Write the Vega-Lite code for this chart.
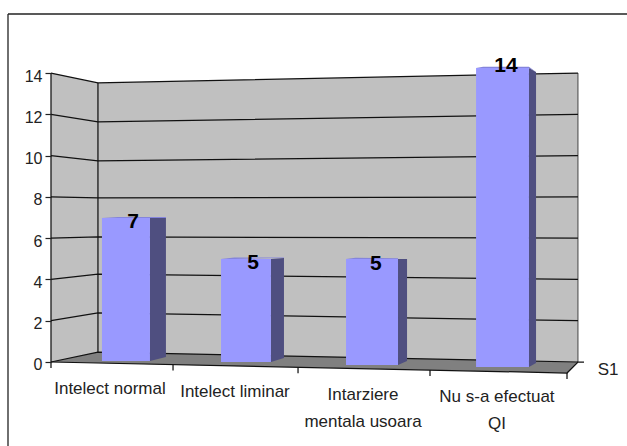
{
"$schema":"https://vega.github.io/schema/vega-lite/v6.json",
"width":619,"height":432,
"autosize":{"type":"none"},
"padding":{"left":8,"top":14,"right":0,"bottom":0},
"background":"white",
"view":{"stroke":null},
"datasets":{
"frame":[{"a":-0.3333,"b":-0.3333,"p":-4.0698,"q":16.8605},{"a":-0.3333,"b":4.4651,"p":16.8605,"q":16.8605}],
"leftWall":[{"x":0,"lo":0,"hi":14},{"x":0.364,"lo":0.48,"hi":13.52}],
"backWall":[{"x":0.364,"lo":0.48,"hi":13.52},{"x":4.085,"lo":0,"hi":14}],
"floor":[{"x":0,"lo":0,"hi":0},{"x":0.364,"lo":-0.05,"hi":0.48},{"x":4,"lo":-0.533,"hi":0.01},{"x":4.085,"lo":0,"hi":0}],
"grid":[
{"level":14,"x":0,"v":14},{"level":14,"x":0.364,"v":13.52},{"level":14,"x":4.085,"v":14},
{"level":12,"x":0,"v":12},{"level":12,"x":0.364,"v":11.63},{"level":12,"x":4.085,"v":12},
{"level":10,"x":0,"v":10},{"level":10,"x":0.364,"v":9.74},{"level":10,"x":4.085,"v":10},
{"level":8,"x":0,"v":8},{"level":8,"x":0.364,"v":7.95},{"level":8,"x":4.085,"v":8},
{"level":6,"x":0,"v":6},{"level":6,"x":0.364,"v":6.06},{"level":6,"x":4.085,"v":6},
{"level":4,"x":0,"v":4},{"level":4,"x":0.364,"v":4.26},{"level":4,"x":4.085,"v":4},
{"level":2,"x":0,"v":2},{"level":2,"x":0.364,"v":2.38},{"level":2,"x":4.085,"v":2},
{"level":0,"x":0,"v":0},{"level":0,"x":0.364,"v":0.48},{"level":0,"x":4.085,"v":0}
],
"edges":[
{"e":"axis","x":0,"v":0},{"e":"axis","x":0,"v":14},
{"e":"corner","x":0.364,"v":0.48},{"e":"corner","x":0.364,"v":13.52},
{"e":"front","x":0,"v":0},{"e":"front","x":4,"v":-0.533},{"e":"front","x":4.085,"v":0},{"e":"front","x":4.132,"v":0},
{"e":"t0","x":0,"v":0},{"e":"t0","x":0,"v":-0.29},
{"e":"t1","x":0.946,"v":-0.126},{"e":"t1","x":0.946,"v":-0.417},
{"e":"t2","x":1.915,"v":-0.257},{"e":"t2","x":1.915,"v":-0.548},
{"e":"t3","x":2.938,"v":-0.388},{"e":"t3","x":2.938,"v":-0.679},
{"e":"t4","x":4,"v":-0.533},{"e":"t4","x":4,"v":-0.824}
],
"rightEdge":[{"x":4.085,"v":0},{"x":4.085,"v":14}],
"bars":[
{"category":"Intelect normal","value":7,"x0":0.395,"x1":0.767,"top":6.98,"base":0.05,"lx":0.636,"lv":6.8},
{"category":"Intelect liminar","value":5,"x0":1.318,"x1":1.705,"top":4.99,"base":0,"lx":1.566,"lv":4.82},
{"category":"Intarziere mentala usoara","value":5,"x0":2.287,"x1":2.69,"top":4.99,"base":-0.145,"lx":2.519,"lv":4.77},
{"category":"Nu s-a efectuat QI","value":14,"x0":3.295,"x1":3.705,"top":14.24,"base":-0.24,"lx":3.527,"lv":14.32}
],
"sides":[
{"bar":1,"x":0.767,"lo":0.05,"hi":6.98},{"bar":1,"x":0.891,"lo":0.24,"hi":6.98},
{"bar":2,"x":1.705,"lo":0,"hi":4.99},{"bar":2,"x":1.806,"lo":0.19,"hi":5.04},
{"bar":3,"x":2.69,"lo":-0.145,"hi":4.99},{"bar":3,"x":2.76,"lo":0.05,"hi":4.99},
{"bar":4,"x":3.705,"lo":-0.24,"hi":14.24},{"bar":4,"x":3.76,"lo":-0.05,"hi":14.05}
],
"tops":[
{"bar":1,"x":0.395,"lo":6.98,"hi":6.98},{"bar":1,"x":0.52,"lo":6.98,"hi":7.03},{"bar":1,"x":0.891,"lo":6.98,"hi":7.03},
{"bar":2,"x":1.318,"lo":4.99,"hi":4.99},{"bar":2,"x":1.42,"lo":4.99,"hi":5.06},{"bar":2,"x":1.806,"lo":5.04,"hi":5.06},
{"bar":3,"x":2.287,"lo":4.99,"hi":4.99},{"bar":3,"x":2.36,"lo":4.99,"hi":5.05},{"bar":3,"x":2.69,"lo":4.99,"hi":5.03},
{"bar":4,"x":3.295,"lo":14.24,"hi":14.24},{"bar":4,"x":3.35,"lo":14.24,"hi":14.3},{"bar":4,"x":3.705,"lo":14.24,"hi":14.3},{"bar":4,"x":3.76,"lo":14.05,"hi":14.05}
],
"labels":[
{"label":"Intelect normal","x":0.457,"v":-0.9},
{"label":"Intelect liminar","x":1.426,"v":-1.09},
{"label":"Intarziere\nmentala usoara","x":2.419,"v":-1.19},
{"label":"Nu s-a efectuat\nQI","x":3.457,"v":-1.33},
{"label":"S1","x":4.318,"v":0.02}
]
},
"encoding":{},
"layer":[
{"data":{"name":"frame"},"mark":{"type":"rule","color":"#222","strokeWidth":1.3},
 "encoding":{"x":{"field":"a","type":"quantitative","scale":{"domain":[-0.3333,4.4651],"nice":false,"zero":false},"axis":null},"x2":{"field":"b"},
 "y":{"field":"p","type":"quantitative","scale":{"domain":[-4.0698,16.8605],"nice":false,"zero":false},
 "axis":{"values":[0,2,4,6,8,10,12,14],"title":null,"grid":false,"domain":false,"offset":-43,"tickSize":6,"tickColor":"#222","tickWidth":1.2,"labelPadding":3,"labelOffset":3,"labelFont":"Liberation Sans","labelFontSize":16,"labelColor":"#222","zindex":1}},"y2":{"field":"q"}}},
{"data":{"name":"leftWall"},"mark":{"type":"area","color":"#C0C0C0","opacity":1},"encoding":{"x":{"field":"x","type":"quantitative"},"y":{"field":"lo","type":"quantitative"},"y2":{"field":"hi"}}},
{"data":{"name":"backWall"},"mark":{"type":"area","color":"#C0C0C0","opacity":1},"encoding":{"x":{"field":"x","type":"quantitative"},"y":{"field":"lo","type":"quantitative"},"y2":{"field":"hi"}}},
{"data":{"name":"floor"},"mark":{"type":"area","color":"#808080","opacity":1},"encoding":{"x":{"field":"x","type":"quantitative"},"y":{"field":"lo","type":"quantitative"},"y2":{"field":"hi"}}},
{"data":{"name":"rightEdge"},"mark":{"type":"line","color":"#444","strokeWidth":1},"encoding":{"x":{"field":"x","type":"quantitative"},"y":{"field":"v","type":"quantitative"}}},
{"data":{"name":"grid"},"mark":{"type":"line","color":"#111","strokeWidth":1.25},"encoding":{"x":{"field":"x","type":"quantitative"},"y":{"field":"v","type":"quantitative"},"detail":{"field":"level"}}},
{"data":{"name":"edges"},"mark":{"type":"line","color":"#111","strokeWidth":1.25},"encoding":{"x":{"field":"x","type":"quantitative"},"y":{"field":"v","type":"quantitative"},"detail":{"field":"e"},"order":{"field":"__none"}}},
{"data":{"name":"tops"},"mark":{"type":"area","color":"#8484DC","opacity":1},"encoding":{"x":{"field":"x","type":"quantitative"},"y":{"field":"lo","type":"quantitative"},"y2":{"field":"hi"},"detail":{"field":"bar"}}},
{"data":{"name":"sides"},"mark":{"type":"area","color":"#4F4F80","opacity":1},"encoding":{"x":{"field":"x","type":"quantitative"},"y":{"field":"lo","type":"quantitative"},"y2":{"field":"hi"},"detail":{"field":"bar"}}},
{"data":{"name":"bars"},"mark":{"type":"rect","color":"#9999FF"},"encoding":{"x":{"field":"x0","type":"quantitative"},"x2":{"field":"x1"},"y":{"field":"base","type":"quantitative"},"y2":{"field":"top"}}},
{"data":{"name":"bars"},"mark":{"type":"text","font":"Liberation Sans","fontWeight":"bold","fontSize":21,"color":"#000","baseline":"middle"},"encoding":{"x":{"field":"lx","type":"quantitative"},"y":{"field":"lv","type":"quantitative"},"text":{"field":"value","type":"quantitative"}}},
{"data":{"name":"labels"},"mark":{"type":"text","font":"Liberation Sans","fontSize":17,"color":"#222","baseline":"top","lineBreak":"\n","lineHeight":27},"encoding":{"x":{"field":"x","type":"quantitative"},"y":{"field":"v","type":"quantitative"},"text":{"field":"label"}}}
]
}
